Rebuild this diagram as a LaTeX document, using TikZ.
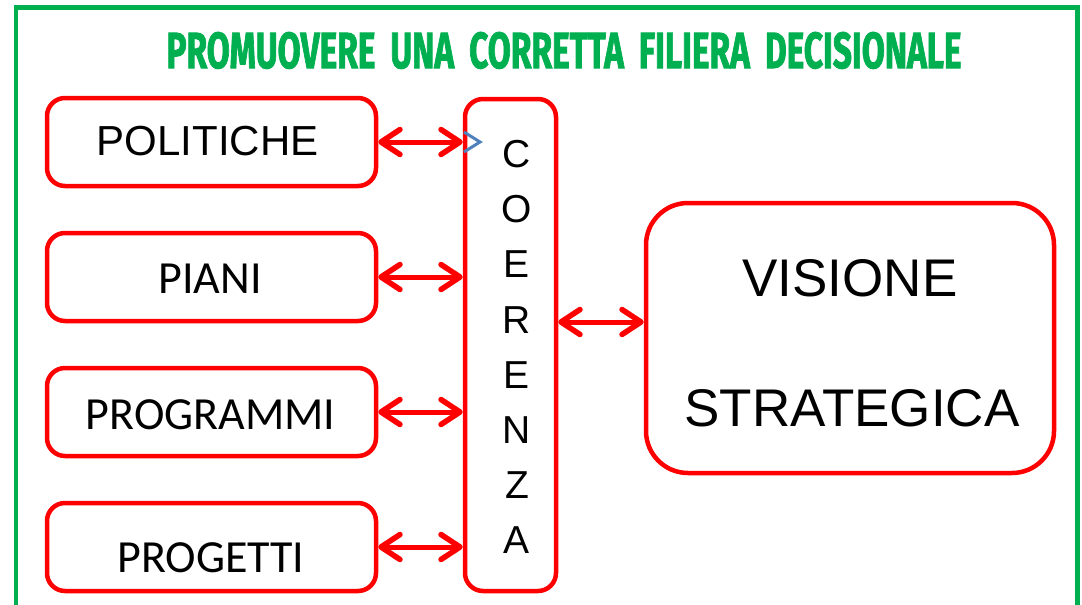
\documentclass[tikz,border=0pt]{standalone}
\usepackage{fontspec}
\usepackage{graphicx}
\setmainfont{Liberation Sans}
\newfontfamily\arialfont{Liberation Sans}
\newfontfamily\calibrifont{Carlito}
\newfontfamily\titlefont{Fira Sans}[BoldFeatures={FakeBold=2}]
\usetikzlibrary{arrows.meta}
\definecolor{frgreen}{HTML}{00B050}
\definecolor{frred}{HTML}{FF0000}
\definecolor{frblue}{HTML}{4F81BD}
\tikzset{
  redbox/.style={draw=frred, line width=4.5pt, rounded corners=18pt, inner sep=0pt, fill=white},
  bigbox/.style={draw=frred, line width=4.5pt, rounded corners=42pt, inner sep=0pt, fill=white},
  biarrow/.style={draw=frred, line width=5pt, line cap=round,
     {Straight Barb[length=19pt, width=25pt, line width=5.5pt, round]}-{Straight Barb[length=19pt, width=25pt, line width=5.5pt, round]}},
  arialtext/.style={font=\arialfont\fontsize{42}{50}\selectfont, anchor=base, inner sep=0pt},
  calibritext/.style={font=\calibrifont\fontsize{46}{55}\selectfont, anchor=base, inner sep=0pt},
  bigtext/.style={font=\arialfont\fontsize{53}{60}\selectfont, anchor=base, inner sep=0pt},
}
\begin{document}
\begin{tikzpicture}[x=1pt, y=-1pt]
\useasboundingbox (0,0) rectangle (1082,605);
\clip (0,0) rectangle (1082,605);
\fill[white] (0,0) rectangle (1082,605);
% frame
\draw[frgreen, line width=4.5pt] (15.8,7.5) rectangle (1077.5,660);
% title
\node[anchor=base, inner sep=0pt, text=frgreen] (title) at (564,68)
  {\resizebox{795pt}{36pt}{\titlefont\bfseries PROMUOVERE\hspace{.45em}UNA\hspace{.45em}CORRETTA\hspace{.45em}FILIERA\hspace{.45em}DECISIONALE}};
% left boxes
\node[redbox, minimum width=329pt, minimum height=88pt] (pol) at (211.5,142) {};
\node[redbox, minimum width=329pt, minimum height=88pt] (pia) at (211.5,277) {};
\node[redbox, minimum width=329pt, minimum height=88pt] (prg) at (211.5,412) {};
\node[redbox, minimum width=329pt, minimum height=88pt] (prt) at (211.5,547) {};
\node[arialtext] (poltxt) at (207.5,155) {POLITICHE};
\node[calibritext] (piatxt) at (210,293) {PIANI};
\node[calibritext] (prgtxt) at (210.5,429) {PROGRAMMI};
\node[calibritext] (prttxt) at (211,572) {PROGETTI};
% coerenza
\node[redbox, minimum width=91pt, minimum height=492pt] (coer) at (510.5,345) {};
\node[align=center, inner sep=0pt, font=\arialfont\fontsize{39}{55.1}\selectfont] (coertxt) at (517,347)
  {C\\O\\E\\R\\E\\N\\Z\\A};
% visione
\node[bigbox, minimum width=408pt, minimum height=270pt] (vis) at (850,338) {};
\node[bigtext] (vistxt) at (850,296) {VISIONE};
\node[bigtext] (strtxt) at (852,426) {STRATEGICA};
% arrows
\draw[biarrow] (pol.east) -- (pol.east -| coer.west);
\draw[biarrow] (pia.east) -- (pia.east -| coer.west);
\draw[biarrow] (prg.east) -- (prg.east -| coer.west);
\draw[biarrow] (prt.east) -- (prt.east -| coer.west);
\coordinate (midy) at (600,322);
\draw[biarrow] (coer.east |- midy) -- (vis.west |- midy);
% stray blue arrowhead
\coordinate (bluetip) at (480,142);
\draw[frblue, line width=3pt, line join=miter] ([shift={(-16,-10)}]bluetip) -- (bluetip) -- ([shift={(-16,10)}]bluetip);
\end{tikzpicture}
\end{document}
